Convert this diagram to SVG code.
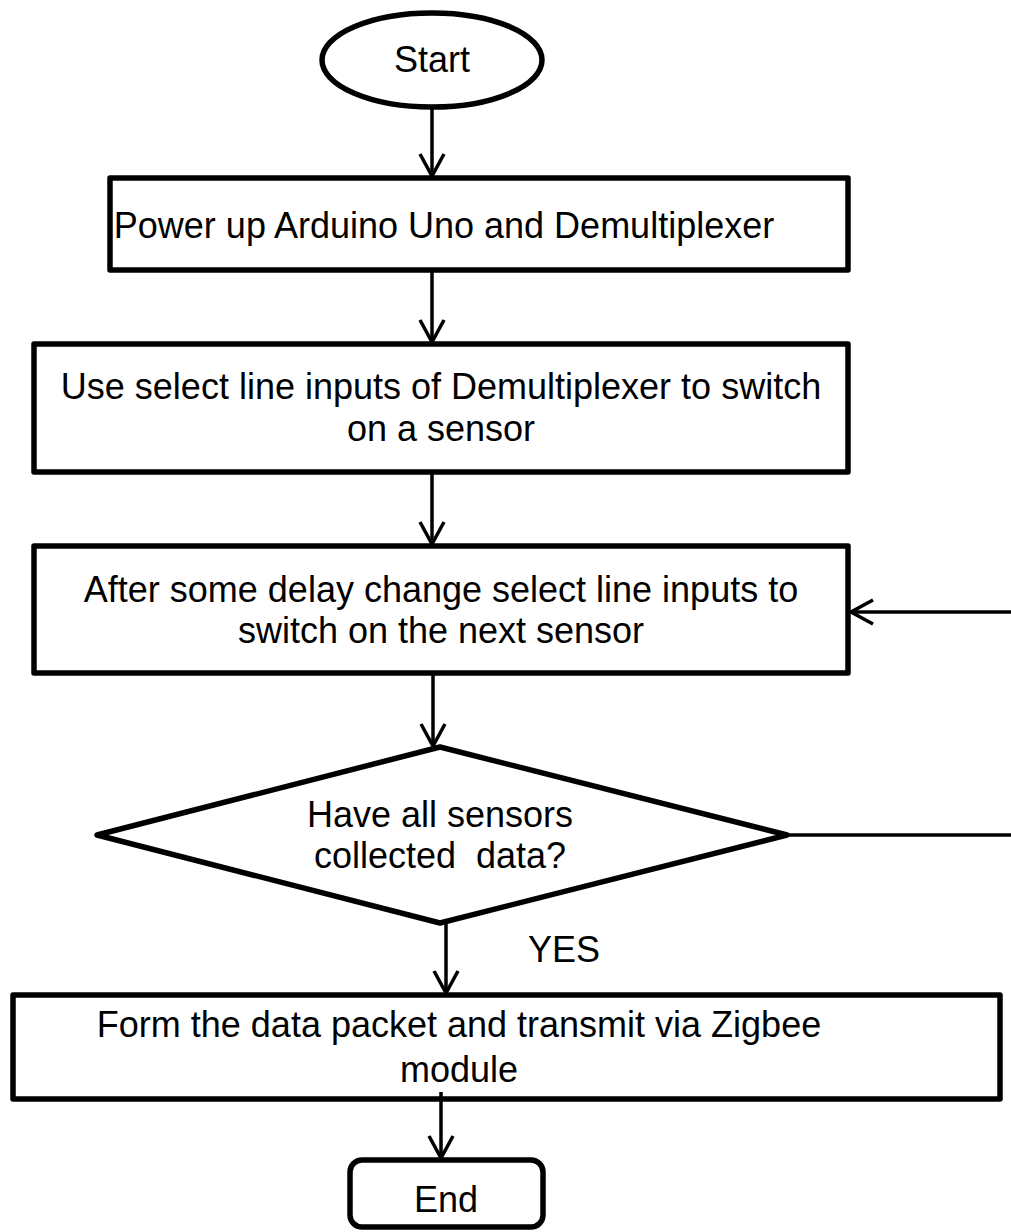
<svg xmlns="http://www.w3.org/2000/svg" width="1011" height="1232" viewBox="0 0 1011 1232">
<style>
.node{fill:#fff;stroke:#000;stroke-width:5.5;stroke-linejoin:round}
.lbl{font-family:"Liberation Sans",Arial,sans-serif;font-size:36px;fill:#000;text-anchor:middle}
.edge{fill:none;stroke:#000;stroke-width:3.5}
</style>
<defs>
<marker id="arr" markerUnits="userSpaceOnUse" markerWidth="30" markerHeight="30" viewBox="-26 -15 30 30" refX="0" refY="0" orient="auto" overflow="visible">
<path d="M-22,-12 L0,0 L-22,12" fill="none" stroke="#000" stroke-width="3.5" stroke-linejoin="miter"/>
</marker>
</defs>
<rect width="1011" height="1232" fill="#fff"/>
<g id="start">
<ellipse class="node" cx="432" cy="60" rx="110" ry="47"/>
<text class="lbl" x="432" y="72">Start</text>
</g>
<g id="power">
<rect class="node" x="110" y="178" width="738" height="92"/>
<text class="lbl" x="444" y="238">Power up Arduino Uno and Demultiplexer</text>
</g>
<g id="select">
<rect class="node" x="34" y="344" width="814" height="128"/>
<text class="lbl" x="441" y="399">Use select line inputs of Demultiplexer to switch</text>
<text class="lbl" x="441" y="441">on a sensor</text>
</g>
<g id="delay">
<rect class="node" x="34" y="546" width="814" height="127"/>
<text class="lbl" x="441" y="602">After some delay change select line inputs to</text>
<text class="lbl" x="441" y="643">switch on the next sensor</text>
</g>
<g id="decision">
<polygon class="node" points="440,747 787,835 440,923 97,835"/>
<text class="lbl" x="440" y="827">Have all sensors</text>
<text class="lbl" x="440" y="868" xml:space="preserve">collected  data?</text>
</g>
<g id="transmit">
<rect class="node" x="13" y="995" width="987" height="104"/>
<text class="lbl" x="459" y="1037">Form the data packet and transmit via Zigbee</text>
<text class="lbl" x="459" y="1082">module</text>
</g>
<g id="end">
<rect class="node" x="350" y="1160" width="193" height="67" rx="12"/>
<text class="lbl" x="446" y="1212">End</text>
</g>
<g id="connectors">
<line class="edge" x1="432" y1="107" x2="432" y2="176" marker-end="url(#arr)"/>
<line class="edge" x1="432" y1="270" x2="432" y2="342" marker-end="url(#arr)"/>
<line class="edge" x1="432" y1="472" x2="432" y2="544" marker-end="url(#arr)"/>
<line class="edge" x1="433" y1="673" x2="433" y2="746" marker-end="url(#arr)"/>
<line class="edge" x1="446" y1="923" x2="446" y2="993" marker-end="url(#arr)"/>
<line class="edge" x1="441" y1="1092" x2="441" y2="1158" marker-end="url(#arr)"/>
<line class="edge" x1="787" y1="835" x2="1011" y2="835"/>
<line class="edge" x1="1011" y1="612" x2="851" y2="612" marker-end="url(#arr)"/>
<text class="lbl" x="564" y="962">YES</text>
</g>
</svg>
